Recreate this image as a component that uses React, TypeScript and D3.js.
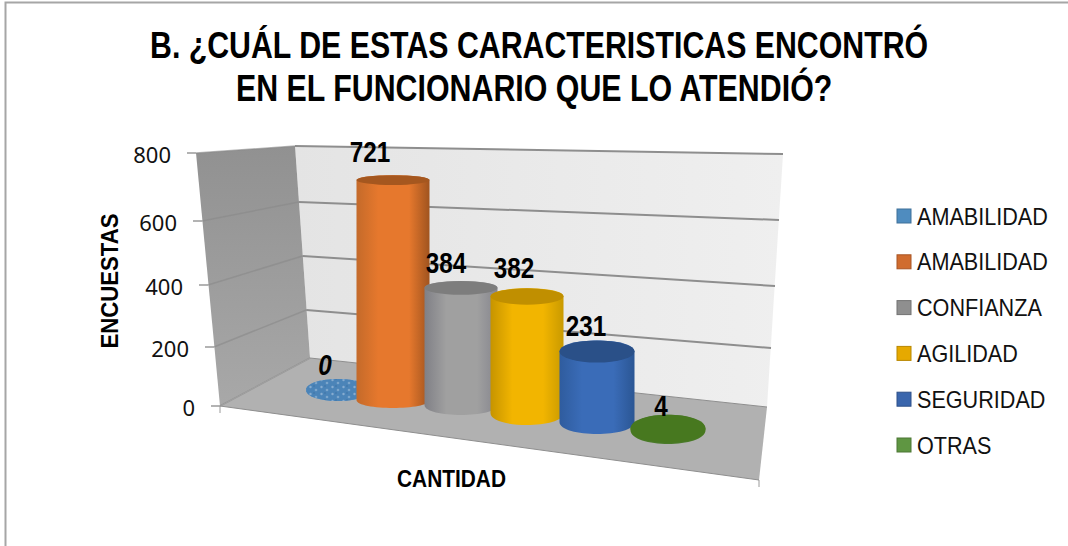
import React from "react";
import * as d3 from "d3";

const W = 1068;
const H = 546;

const titleLines = ["B. ¿CUÁL DE ESTAS CARACTERISTICAS ENCONTRÓ", "EN EL FUNCIONARIO QUE LO ATENDIÓ?"];
const categories = ["AMABILIDAD", "AMABILIDAD", "CONFIANZA", "AGILIDAD", "SEGURIDAD", "OTRAS"];
const values = [0, 721, 384, 382, 231, 4];
const valueTicks = [0, 200, 400, 600, 800];
const yAxisTitle = "ENCUESTAS";
const xAxisTitle = "CANTIDAD";

const swatchColors = ["#4f8cbf", "#d06c2f", "#8f8f8f", "#e6a900", "#3a66ad", "#5f9642"];
const swatchEdges = ["#3f7199", "#a85524", "#737373", "#b88700", "#2e5189", "#4c7735"];
const shadeLeft = ["#4f86b8", "#c46a2a", "#808086", "#c69400", "#2f5c9e", "#47781f"];
const shadeMid = ["#5a93c5", "#e6782d", "#a0a0a0", "#f2b500", "#3a6cb8", "#4a7a2a"];
const shadeRight = ["#4f86b8", "#a0541f", "#85858d", "#c99a00", "#2b5694", "#47781f"];
const capColors = ["url(#speckle)", "#a5571f", "#7d7d7d", "#c08f00", "#2a5088", "#47781f"];

// Perspective frame of the chart box: each edge maps a value to its point on that edge.
const frontX = d3.scaleLinear(valueTicks, [220, 214, 208, 202, 196]);
const frontY = d3.scaleLinear(valueTicks, [406, 347, 285, 221, 153]);
const backLeftX = d3.scaleLinear([0, 800], [310, 295]);
const backLeftY = d3.scaleLinear(valueTicks, [358, 310, 256, 202, 146]);
const backRightX = d3.scaleLinear([0, 800], [767, 783]);
const backRightY = d3.scaleLinear(valueTicks, [407, 348, 286, 220, 154]);

// Cylinder placement on the floor, by category index.
const idx = [0, 1, 2, 3, 4, 5];
const baseX = d3.scaleLinear(idx, [338, 393, 461, 527, 597, 668]);
const baseY = d3.scaleLinear(idx, [390, 400, 405, 413, 422, 430]);
const baseRy = d3.scaleLinear(idx, [11, 8, 10, 12, 12, 14]);
const radiusX = d3.scaleLinear(idx, [32, 36.5, 36.5, 36.5, 37.5, 37.5]);
const columnHeight = d3.scaleLinear([0, 800], [0, 244]);
const capShrink = d3.scaleLinear([0, 231, 382, 721], [1, 0.92, 0.68, 0.62]);
const labelShift = d3.scaleLinear(idx, [-13, -23, -15, -13, -11, -7]);
const labelRise = d3.scaleLinear(idx, [15, 18, 15, 18, 16, 13]);

const legendY = d3.scaleLinear([0, 5], [216, 445]);

const poly = (pts: [number, number][]) => (d3.line()(pts) ?? "") + "Z";

function columnPath(cx: number, top: number, bottom: number, rx: number, ry: number, topRy: number) {
  const p = d3.path();
  p.moveTo(cx - rx, top);
  p.lineTo(cx - rx, bottom);
  p.bezierCurveTo(cx - rx, bottom + ry * 1.33, cx + rx, bottom + ry * 1.33, cx + rx, bottom);
  p.lineTo(cx + rx, top);
  p.bezierCurveTo(cx + rx, top - topRy * 1.33, cx - rx, top - topRy * 1.33, cx - rx, top);
  p.closePath();
  return p.toString();
}

const sans = "'Liberation Sans', Arial, sans-serif";

// Horizontal squeeze that makes a string occupy the wanted width.
const measure = document.createElement("canvas").getContext("2d");
function squeeze(text: string, font: string, width: number) {
  if (!measure) return 1;
  measure.font = font;
  return width / measure.measureText(text).width;
}

function Condensed(props: {
  text: string;
  x: number;
  y: number;
  width: number;
  size: number;
  italic?: boolean;
  rotate?: number;
  middle?: boolean;
}) {
  const { text, x, y, width, size, italic, rotate, middle } = props;
  const font = `${italic ? "italic " : ""}bold ${size}px 'Liberation Sans'`;
  const sx = squeeze(text, font, width);
  return (
    <text
      transform={`translate(${x},${y}) rotate(${rotate ?? 0}) scale(${sx},1)`}
      textAnchor={middle ? "middle" : "start"}
      fontFamily={sans}
      fontWeight="bold"
      fontStyle={italic ? "italic" : "normal"}
      fontSize={size}
      fill="#000"
    >
      {text}
    </text>
  );
}

export default function App() {
  const wall: [number, number][] = [
    [frontX(800), frontY(800)],
    [backLeftX(800), backLeftY(800)],
    [backLeftX(0), backLeftY(0)],
    [frontX(0), frontY(0)],
  ];
  const back: [number, number][] = [
    [backLeftX(800), backLeftY(800)],
    [backRightX(800), backRightY(800)],
    [backRightX(0), backRightY(0)],
    [backLeftX(0), backLeftY(0)],
  ];
  const floorFront: [number, number] = [759, 480];
  const floor: [number, number][] = [
    [frontX(0), frontY(0)],
    [backLeftX(0), backLeftY(0)],
    [backRightX(0), backRightY(0)],
    floorFront,
  ];

  return (
    <svg
      width={W}
      height={H}
      viewBox={`0 0 ${W} ${H}`}
      style={{ position: "absolute", left: 0, top: 0, display: "block", background: "#fff" }}
    >
      <defs>
        <linearGradient id="wallShade" x1="0" x2="0" y1="0" y2="1">
          <stop offset="0" stopColor="#919191" />
          <stop offset="1" stopColor="#a8a8a8" />
        </linearGradient>
        <linearGradient id="backShade" x1="0" x2="1" y1="0" y2="0">
          <stop offset="0" stopColor="#e4e4e4" />
          <stop offset="1" stopColor="#efefef" />
        </linearGradient>
        {/* mottled fill of the flat zero-height disc */}
        <pattern id="speckle" width="11" height="7" patternUnits="userSpaceOnUse">
          <rect width="11" height="7" fill="#4b84b8" />
          <circle cx="2.5" cy="2" r="1.2" fill="#86acd0" />
          <circle cx="8" cy="5" r="1.3" fill="#7ba5cb" />
          <circle cx="6" cy="1" r="0.8" fill="#3d72a4" />
        </pattern>
        {categories.map((_, i) => (
          <linearGradient key={i} id={`col${i}`} x1="0" x2="1" y1="0" y2="0">
            <stop offset="0" stopColor={shadeLeft[i]} />
            <stop offset="0.3" stopColor={shadeMid[i]} />
            <stop offset="0.72" stopColor={shadeMid[i]} />
            <stop offset="1" stopColor={shadeRight[i]} />
          </linearGradient>
        ))}
      </defs>

      {/* chart area border, open at the right and bottom */}
      <path d={`M5.5 ${H}V2.5H${W}`} fill="none" stroke="#a6a6a6" strokeWidth={2} />

      <Condensed text={titleLines[0]} x={150} y={58} width={779} size={37.5} />
      <Condensed text={titleLines[1]} x={236} y={101} width={598} size={37.5} />

      {/* walls and floor */}
      <path d={poly(back)} fill="url(#backShade)" />
      <path d={poly(wall)} fill="url(#wallShade)" />
      <path d={poly(floor)} fill="#b1b1b1" />

      {/* gridlines across both walls */}
      {valueTicks.map((v) => (
        <g key={v} fill="none">
          <line
            x1={backLeftX(v)}
            y1={backLeftY(v)}
            x2={backRightX(v)}
            y2={backRightY(v)}
            stroke="#8e8e8e"
            strokeWidth={v === 0 ? 1 : 2}
          />
          <line
            x1={frontX(v)}
            y1={frontY(v)}
            x2={backLeftX(v)}
            y2={backLeftY(v)}
            stroke="#888888"
            strokeOpacity={0.6}
            strokeWidth={1.5}
          />
          <line
            x1={frontX(v) - 9}
            y1={frontY(v)}
            x2={frontX(v)}
            y2={frontY(v)}
            stroke="#9a9a9a"
            strokeWidth={1.5}
          />
        </g>
      ))}
      <line x1={frontX(0)} y1={frontY(0)} x2={frontX(0)} y2={frontY(0) + 7} stroke="#9a9a9a" />
      <line x1={floorFront[0]} y1={floorFront[1]} x2={floorFront[0]} y2={floorFront[1] + 7} stroke="#9a9a9a" />
      <line
        x1={frontX(0)}
        y1={frontY(0)}
        x2={floorFront[0]}
        y2={floorFront[1]}
        stroke="#8e8e8e"
        strokeWidth={1}
      />

      {valueTicks.map((v) => (
        <text
          key={v}
          x={frontX(v) - 25}
          y={frontY(v) + 10}
          textAnchor="end"
          fontFamily="'Noto Sans', sans-serif"
          fontSize={22}
          fill="#111"
        >
          {v}
        </text>
      ))}

      {/* one cylinder per category, rear to front */}
      {values.map((v, i) => {
        const cx = baseX(i);
        const rx = radiusX(i);
        const bottom = baseY(i);
        const top = bottom - columnHeight(v);
        const ry = baseRy(i);
        const topRy = ry * capShrink(v);
        return (
          <g key={i}>
            <path d={columnPath(cx, top, bottom, rx, ry, topRy)} fill={`url(#col${i})`} />
            <ellipse cx={cx} cy={top} rx={rx} ry={topRy} fill={capColors[i]} />
          </g>
        );
      })}

      {values.map((v, i) => (
        <Condensed
          key={i}
          text={String(v)}
          x={baseX(i) + labelShift(i)}
          y={baseY(i) - columnHeight(v) - labelRise(i)}
          width={String(v).length * 13.5}
          size={30}
          italic={v === 0}
          middle
        />
      ))}

      <Condensed text={yAxisTitle} x={118} y={281} width={135} size={24} rotate={-90} middle />
      <Condensed text={xAxisTitle} x={397} y={487} width={109} size={24} />

      {categories.map((c, i) => (
        <g key={i}>
          <rect
            x={897}
            y={legendY(i) - 7}
            width={14}
            height={14}
            fill={swatchColors[i]}
            stroke={swatchEdges[i]}
            strokeWidth={1}
          />
          <text
            transform={`translate(917,${legendY(i) + 8.5}) scale(0.9,1)`}
            fontFamily={sans}
            fontSize={24}
            fill="#111"
          >
            {c}
          </text>
        </g>
      ))}
    </svg>
  );
}
